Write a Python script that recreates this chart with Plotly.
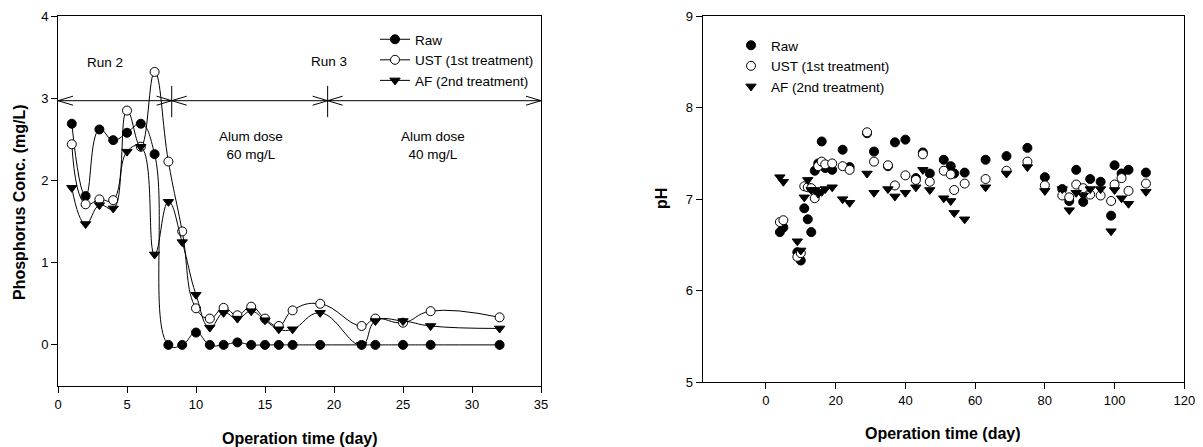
import plotly.graph_objects as go

# ---------------- Left panel: phosphorus concentration ----------------
p_days = [1, 2, 3, 4, 5, 6, 7, 8, 9, 10, 11, 12, 13, 14, 15, 16, 17, 19, 22, 23, 25, 27, 32]
p_raw = [2.69, 1.81, 2.62, 2.49, 2.58, 2.69, 2.32, 0, 0, 0.15, 0, 0, 0.03, 0, 0, 0, 0, 0, 0, 0, 0, 0, 0]
p_ust = [2.44, 1.71, 1.77, 1.76, 2.85, 2.41, 3.32, 2.23, 1.38, 0.445, 0.32, 0.45, 0.36, 0.465,
         0.32, 0.23, 0.42, 0.50, 0.23, 0.32, 0.27, 0.41, 0.335]
p_af = [1.91, 1.47, 1.70, 1.66, 2.35, 2.41, 1.10, 1.74, 1.25, 0.61, 0.21, 0.39, 0.32, 0.41,
        0.30, 0.19, 0.19, 0.39, 0.0, 0.29, 0.29, 0.23, 0.20]

# run boundaries (day) for the double-headed arrows
run_bounds = [0, 8.24, 19.54, 35]
run_arrow_y = 2.97
run_labels = ["Run 2", "Run 3"]
dose_labels = ["Alum dose<br>60 mg/L", "Alum dose<br>40 mg/L"]

# ---------------- Right panel: pH ----------------
ph_days = [4, 5, 9, 10, 11, 12, 13, 14, 15, 16, 17, 19, 22, 24, 29, 31, 35, 37, 40, 43, 45, 47,
           51, 53, 54, 57, 63, 69, 75, 80, 85, 87, 89, 91, 93, 96, 99, 100, 102, 104, 109]
ph_raw = [6.64, 6.69, 6.42, 6.33, 6.90, 6.78, 6.64, 7.31, 7.39, 7.63, 7.34, 7.32, 7.54, 7.35,
          7.72, 7.52, 7.36, 7.62, 7.65, 7.23, 7.51, 7.28, 7.43, 7.36, 7.28, 7.29, 7.43, 7.47,
          7.56, 7.24, 7.11, 6.98, 7.32, 6.97, 7.22, 7.19, 6.82, 7.37, 7.28, 7.32, 7.29]
ph_ust = [6.75, 6.77, 6.37, 6.41, 7.14, 7.13, 7.12, 7.01, 7.36, 7.41, 7.38, 7.39, 7.36, 7.32,
          7.73, 7.41, 7.37, 7.15, 7.26, 7.21, 7.49, 7.19, 7.31, 7.27, 7.10, 7.17, 7.22, 7.31,
          7.41, 7.15, 7.04, 7.02, 7.16, 7.12, 7.05, 7.04, 6.98, 7.16, 7.23, 7.09, 7.17]
ph_af = [7.24, 7.19, 6.54, 6.44, 7.02, 7.21, 7.10, 7.10, 7.06, 7.08, 7.11, 7.13, 7.00, 6.96,
         7.28, 7.07, 7.11, 7.03, 7.07, 7.13, 7.32, 7.10, 7.01, 6.98, 6.85, 6.78, 7.13, 7.28,
         7.35, 7.09, 7.11, 6.88, 7.07, 7.04, 7.11, 7.11, 6.65, 7.10, 7.01, 6.95, 7.08]

series_names = ["Raw", "UST (1st treatment)", "AF (2nd treatment)"]

FONT = "Arial, Liberation Sans, sans-serif"
BLACK = "#000000"

styles = [
    dict(symbol="circle", color=BLACK, line=dict(color=BLACK, width=1)),
    dict(symbol="circle", color="white", line=dict(color=BLACK, width=1)),
    dict(symbol="triangle-down", color=BLACK, line=dict(color=BLACK, width=1)),
]

fig = go.Figure()

for name, ys, st in zip(series_names, [p_raw, p_ust, p_af], styles):
    fig.add_trace(go.Scatter(
        x=p_days, y=ys, name=name, mode="lines+markers",
        line=dict(color=BLACK, width=1, shape="spline", smoothing=1.3),
        marker=dict(size=9, **st),
        xaxis="x", yaxis="y", legend="legend",
    ))

for name, ys, st in zip(series_names, [ph_raw, ph_ust, ph_af], styles):
    fig.add_trace(go.Scatter(
        x=ph_days, y=ys, name=name, mode="markers",
        marker=dict(size=9, **st),
        xaxis="x2", yaxis="y2", legend="legend2",
    ))

shapes = []
# main horizontal arrow line
shapes.append(dict(type="line", xref="x", yref="y", x0=run_bounds[0], x1=run_bounds[-1],
                   y0=run_arrow_y, y1=run_arrow_y, line=dict(color=BLACK, width=1)))
# vertical dividers
for b in run_bounds[1:-1]:
    shapes.append(dict(type="line", xref="x", yref="y", x0=b, x1=b,
                       y0=run_arrow_y - 0.2, y1=run_arrow_y + 0.18,
                       line=dict(color=BLACK, width=1)))
# arrow heads (open chevrons)
for i in range(len(run_bounds) - 1):
    for xb, path in [(run_bounds[i], "M 15 4.5 L 0 0 L 15 -4.5"),
                     (run_bounds[i + 1], "M -15 4.5 L 0 0 L -15 -4.5")]:
        shapes.append(dict(type="path", xref="x", yref="y", xsizemode="pixel", ysizemode="pixel",
                           xanchor=xb, yanchor=run_arrow_y, path=path,
                           line=dict(color=BLACK, width=1)))

annotations = []
txt = dict(family=FONT, size=13.5, color=BLACK)
annotations.append(dict(x=3.4, y=3.43, xref="x", yref="y", text=run_labels[0], showarrow=False, font=txt))
annotations.append(dict(x=19.66, y=3.45, xref="x", yref="y", text=run_labels[1], showarrow=False, font=txt))
annotations.append(dict(x=14.0, y=2.43, xref="x", yref="y", text=dose_labels[0], showarrow=False, font=txt))
annotations.append(dict(x=27.2, y=2.42, xref="x", yref="y", text=dose_labels[1], showarrow=False, font=txt))

title_font = dict(family=FONT, size=16, color=BLACK)
annotations.append(dict(x=19 / 1203, y=(447 - 202) / 447, xref="paper", yref="paper",
                        text="<b>Phosphorus Conc. (mg/L)</b>", textangle=-90, showarrow=False,
                        font=title_font, xanchor="center", yanchor="middle"))
annotations.append(dict(x=299.5 / 1203, y=(447 - 438) / 447, xref="paper", yref="paper",
                        text="<b>Operation time (day)</b>", showarrow=False,
                        font=title_font, xanchor="center", yanchor="middle"))
annotations.append(dict(x=662 / 1203, y=(447 - 199) / 447, xref="paper", yref="paper",
                        text="<b>pH</b>", textangle=-90, showarrow=False,
                        font=title_font, xanchor="center", yanchor="middle"))
annotations.append(dict(x=943.5 / 1203, y=(447 - 433) / 447, xref="paper", yref="paper",
                        text="<b>Operation time (day)</b>", showarrow=False,
                        font=title_font, xanchor="center", yanchor="middle"))

axis_common = dict(showgrid=False, zeroline=False, showline=True, linecolor=BLACK, linewidth=1,
                   mirror=True, ticks="outside", ticklen=6, tickwidth=1, tickcolor=BLACK,
                   automargin=False,
                   tickfont=dict(family=FONT, size=13, color=BLACK))

fig.update_layout(
    width=1203, height=447,
    margin=dict(l=0, r=0, t=0, b=0, autoexpand=False),
    paper_bgcolor="white", plot_bgcolor="white",
    font=dict(family=FONT, size=13, color=BLACK),
    xaxis=dict(domain=[58 / 1203, 541 / 1203], range=[0, 35], tickvals=[0, 5, 10, 15, 20, 25, 30, 35],
               anchor="y", **axis_common),
    yaxis=dict(domain=[(447 - 386) / 447, (447 - 16) / 447], range=[-0.5, 4], tickvals=[0, 1, 2, 3, 4],
               anchor="x", **axis_common),
    xaxis2=dict(domain=[702.7 / 1203, 1184.3 / 1203], range=[-18.14, 120],
                tickvals=[0, 20, 40, 60, 80, 100, 120], anchor="y2", **axis_common),
    yaxis2=dict(domain=[(447 - 382.3) / 447, (447 - 16) / 447], range=[5, 9], tickvals=[5, 6, 7, 8, 9],
                anchor="x2", **axis_common),
    legend=dict(x=375 / 1203, y=(447 - 24) / 447, xanchor="left", yanchor="top",
                bgcolor="rgba(0,0,0,0)", borderwidth=0, font=dict(family=FONT, size=13.5, color=BLACK),
                tracegroupgap=0),
    legend2=dict(x=731 / 1203, y=(447 - 30) / 447, xanchor="left", yanchor="top",
                 bgcolor="rgba(0,0,0,0)", borderwidth=0, font=dict(family=FONT, size=13.5, color=BLACK),
                 tracegroupgap=0),
    showlegend=True,
    shapes=shapes,
    annotations=annotations,
)

fig.write_html("out.html",
               config={"displayModeBar": False},
               post_script="document.body.style.margin='0';document.body.style.padding='0';"
                           "document.body.style.overflow='hidden';")
